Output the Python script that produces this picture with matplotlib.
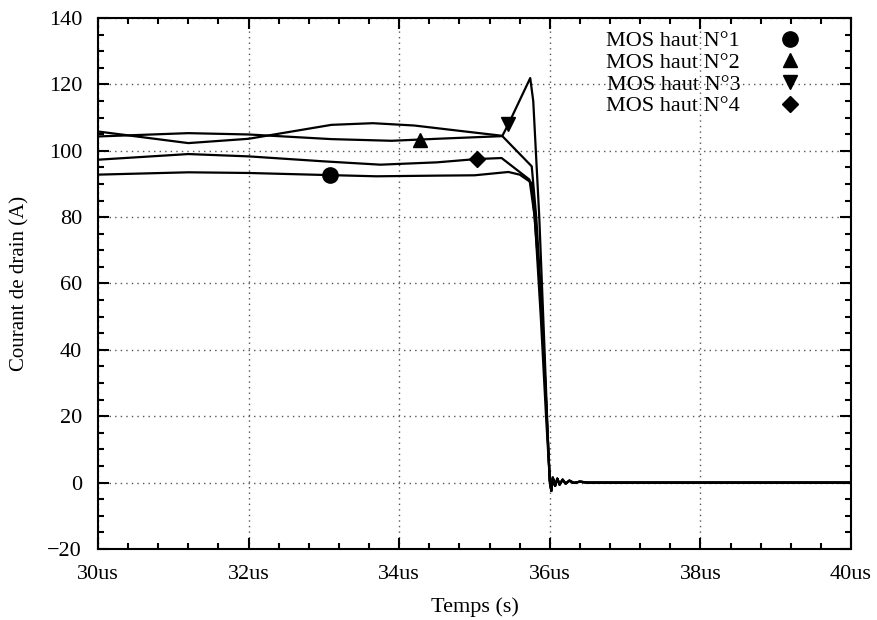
import numpy as np
import matplotlib.pyplot as plt
from matplotlib.ticker import MultipleLocator, FuncFormatter
from matplotlib.lines import Line2D

plt.rcParams['font.family'] = ['Liberation Serif', 'DejaVu Serif']

# time in microseconds, drain current in A
t1 = [30.0, 31.2, 32.0, 33.0, 33.7, 34.5, 35.0, 35.45, 35.6, 35.76, 35.85, 35.92, 35.97, 36.0]
i1 = [92.8, 93.5, 93.3, 92.7, 92.3, 92.5, 92.6, 93.6, 92.8, 90.3, 65.0, 40.0, 15.0, 0.5]

t2 = [30.0, 31.2, 32.0, 33.1, 33.9, 34.5, 35.37, 35.76, 35.82, 35.9, 35.96, 36.0]
i2 = [104.3, 105.3, 104.9, 103.5, 103.0, 103.6, 104.4, 95.3, 80.0, 50.0, 20.0, 0.5]

t3 = [30.0, 31.2, 32.0, 33.1, 33.65, 34.2, 34.8, 35.37, 35.45, 35.74, 35.78, 35.86, 35.93, 35.98, 36.0]
i3 = [105.8, 102.3, 103.6, 107.8, 108.3, 107.6, 106.0, 104.5, 108.0, 121.9, 115.0, 80.0, 40.0, 10.0, 0.5]

t4 = [30.0, 31.2, 32.0, 33.0, 33.75, 34.5, 35.03, 35.36, 35.73, 35.8, 35.88, 35.95, 36.0]
i4 = [97.3, 99.0, 98.3, 96.8, 95.8, 96.5, 97.5, 97.8, 91.3, 80.0, 50.0, 20.0, 0.5]

# ringing after turn-off, shared by all four
t_ring = [36.02, 36.04, 36.07, 36.1, 36.13, 36.17, 36.21, 36.26, 36.32, 36.4, 36.5, 40.0]
i_ring = [-2.5, 1.5, -1.0, 1.2, -0.6, 0.9, -0.3, 0.6, -0.1, 0.3, 0.0, 0.0]

labels = ['MOS haut N°1', 'MOS haut N°2', 'MOS haut N°3', 'MOS haut N°4']
marker_t = [33.08, 34.28, 35.45, 35.03]
markers = ['o', '^', 'v', 'D']
msizes = [11, 10, 10, 8]

series = [(t1, i1), (t2, i2), (t3, i3), (t4, i4)]

fig = plt.figure(figsize=(8.77, 6.2), dpi=100)
ax = fig.add_axes([0.1117, 0.1145, 0.8587, 0.8565])

handles = []
for (t, i), lab, mt, mk, ms in zip(series, labels, marker_t, markers, msizes):
    tt = np.array(t + t_ring)
    ii = np.array(i + i_ring)
    ax.plot(tt, ii, color='black', lw=1.6)
    ax.plot([mt], [np.interp(mt, tt, ii)], marker=mk, color='black', ms=ms, ls='none')
    handles.append(Line2D([], [], marker=mk, color='black', ms=ms, ls='none', label=lab))

ax.set_xlim(30, 40)
ax.set_ylim(-20, 140)
ax.xaxis.set_major_locator(MultipleLocator(2))
ax.xaxis.set_minor_locator(MultipleLocator(0.4))
ax.yaxis.set_major_locator(MultipleLocator(20))
ax.yaxis.set_minor_locator(MultipleLocator(5))
ax.xaxis.set_major_formatter(FuncFormatter(lambda v, p: f'{v:g}us'))
ax.tick_params(which='both', direction='in', top=True, right=True, labelsize=16, width=1.5)
ax.tick_params(which='major', length=8, pad=11.5)
ax.tick_params(which='minor', length=4)
for s in ax.spines.values():
    s.set_linewidth(1.5)
ax.grid(True, which='major', color='#555555', ls=(0, (1, 3)), lw=1)

ax.set_xlabel('Temps (s)', fontsize=16, va='center')
ax.set_ylabel('Courant de drain (A)', fontsize=15, va='center')
ax.xaxis.set_label_coords(0.5, -0.109)
ax.yaxis.set_label_coords(-0.1036, 0.5)

ax.legend(handles=handles, loc='upper right', bbox_to_anchor=(0.962, 1.005), frameon=False,
          markerfirst=False, fontsize=16, handlelength=1.5, handletextpad=1.5,
          labelspacing=0.05, borderaxespad=0.3)

fig.savefig('out.png', dpi=100)
